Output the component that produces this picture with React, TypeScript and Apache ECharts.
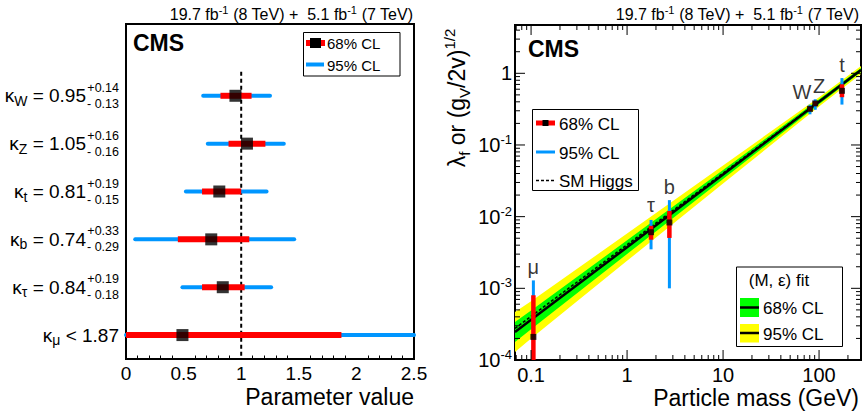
import React, { useEffect, useRef } from 'react';
import * as echarts from 'echarts';

// ---------- Left panel: coupling modifiers ----------
const kappaNames = ['W', 'Z', 't', 'b', 'τ', 'μ'];
const kappaCentral = [0.95, 1.05, 0.81, 0.74, 0.84, 0.49];
const kappa68Lo = [0.82, 0.89, 0.66, 0.45, 0.66, 0];
const kappa68Hi = [1.09, 1.21, 1.0, 1.07, 1.03, 1.87];
const kappa95Lo = [0.67, 0.71, 0.52, 0.08, 0.49, 0];
const kappa95Hi = [1.25, 1.37, 1.22, 1.46, 1.26, 2.5];
const kappaErrUp = ['+0.14', '+0.16', '+0.19', '+0.33', '+0.19', ''];
const kappaErrDown = ['- 0.13', '- 0.16', '- 0.15', '- 0.29', '- 0.18', ''];
const kappaMuLimit = '1.87';
const smKappa = 1;

// ---------- Right panel: reduced couplings vs mass ----------
const particleNames = ['μ', 'τ', 'b', 'W', 'Z', 't'];
const particleMass = [0.1057, 1.777, 2.76, 80.4, 91.19, 173.2];
const couplingCentral = [2.1e-4, 6.07e-3, 8.3e-3, 0.319, 0.38, 0.57];
const coupling68Lo = [5e-5, 4.77e-3, 5.05e-3, 0.296, 0.35, 0.464];
const coupling68Hi = [8.0e-4, 7.44e-3, 1.2e-2, 0.341, 0.408, 0.703];
const coupling95Lo = [5e-5, 3.5e-3, 1.0e-3, 0.268, 0.31, 0.366];
const coupling95Hi = [1.29e-3, 9.0e-3, 1.7e-2, 0.365, 0.434, 0.858];

const fitMass = [0.068, 0.1, 1, 10, 100, 273.5];
const fitCentral = [2.46e-4, 3.63e-4, 3.75e-3, 3.87e-2, 0.4, 1.11];
const fit68Lo = [1.78e-4, 2.69e-4, 3.01e-3, 3.36e-2, 0.369, 1.04];
const fit68Hi = [3.4e-4, 4.9e-4, 4.67e-3, 4.47e-2, 0.434, 1.19];
const fit95Lo = [1.29e-4, 2.0e-4, 2.42e-3, 2.9e-2, 0.344, 0.98];
const fit95Hi = [4.69e-4, 6.61e-4, 5.81e-3, 5.16e-2, 0.465, 1.26];
const smMass = [0.068, 273.5];
const smCoupling = [2.76e-4, 1.111];

const massTicks = [0.1, 1, 10, 100];
const couplingTicks = [1e-4, 1e-3, 1e-2, 1e-1, 1];

const FF = '"Liberation Sans", Arial, Helvetica, sans-serif';
const RED = '#ff0000';
const BLUE = '#0096ff';
const GREEN = '#00ff00';
const YELLOW = '#ffff00';

const X_MIN = 0.068;
const X_MAX = 273.5;
const Y_MIN = 1e-4;
const Y_MAX = 4.72;

const tok = (size: number, lh: number, va?: string) => {
  const o: any = { fontSize: size, lineHeight: lh, fontFamily: FF, color: '#000' };
  if (va) o.verticalAlign = va;
  return o;
};
const gtok = (size: number, lh: number, va?: string) => {
  const o: any = { fontSize: size, lineHeight: lh, fontFamily: FF, fill: '#000' };
  if (va) o.verticalAlign = va;
  return o;
};

function isPow10(v: number) {
  const l = Math.log10(v);
  return Math.abs(l - Math.round(l)) < 1e-6;
}

function buildOption() {
  const cats = ['', ...kappaNames];

  const hBar = (color: string, width: number, cap: string) => (params: any, api: any) => {
    const y = api.value(2);
    const a = api.coord([api.value(0), y]);
    const b = api.coord([api.value(1), y]);
    return {
      type: 'line',
      shape: { x1: a[0], y1: a[1], x2: b[0], y2: b[1] },
      style: { stroke: color, lineWidth: width, lineCap: cap },
    };
  };
  const vBar = (color: string, width: number) => (params: any, api: any) => {
    const x = api.value(0);
    const a = api.coord([x, api.value(1)]);
    const b = api.coord([x, api.value(2)]);
    return {
      type: 'line',
      shape: { x1: a[0], y1: a[1], x2: b[0], y2: b[1] },
      style: { stroke: color, lineWidth: width },
    };
  };
  const band = (lo: number[], hi: number[], color: string) => (params: any, api: any) => {
    if (params.dataIndex !== 0) return { type: 'group', children: [] };
    const pts: number[][] = [];
    for (let i = 0; i < fitMass.length; i++) pts.push(api.coord([fitMass[i], hi[i]]));
    for (let i = fitMass.length - 1; i >= 0; i--) pts.push(api.coord([fitMass[i], lo[i]]));
    return { type: 'polygon', shape: { points: pts }, style: { fill: color } };
  };

  // tick marks for the log frame (major + minor): [x, y, major]
  const xTickData: number[][] = [];
  massTicks.forEach((v) => xTickData.push([v, 0.01, 1]));
  [0.01, 0.1, 1, 10, 100].forEach((d) => {
    for (let k = 2; k <= 9; k++) {
      const v = k * d;
      if (v >= X_MIN && v <= X_MAX) xTickData.push([v, 0.01, 0]);
    }
  });
  const yTickData: number[][] = [];
  couplingTicks.forEach((v) => yTickData.push([1, v, 1]));
  [1e-4, 1e-3, 1e-2, 1e-1, 1].forEach((d) => {
    for (let k = 2; k <= 9; k++) {
      const v = k * d;
      if (v >= Y_MIN && v <= Y_MAX) yTickData.push([1, v, 0]);
    }
  });

  const labelNudge = [[0, 0], [0, -2], [0, 0], [-8, 0], [4, 0], [0, 0]];

  const header = {
    text: '{a|19.7 fb}{s|-1}{a| (8 TeV) +  5.1 fb}{s|-1}{a| (7 TeV)}',
    rich: { a: gtok(16, 20), s: gtok(11, 10, 'top') },
    align: 'right', verticalAlign: 'middle', fill: '#000', fontFamily: FF, fontSize: 16,
  };

  const graphic: any[] = [
    { type: 'text', x: 413, y: 14, z: 100, style: { ...header } },
    { type: 'text', x: 859, y: 14, z: 100, style: { ...header } },
    // CMS labels
    { type: 'text', x: 133, y: 43, z: 100, style: { text: 'CMS', fontSize: 23, fontWeight: 'bold', fontFamily: FF, fill: '#000', verticalAlign: 'middle' } },
    { type: 'text', x: 528, y: 49, z: 100, style: { text: 'CMS', fontSize: 23, fontWeight: 'bold', fontFamily: FF, fill: '#000', verticalAlign: 'middle' } },
    // left legend
    { type: 'rect', z: 100, shape: { x: 303.5, y: 32.5, width: 96.5, height: 43.5 }, style: { fill: '#fff', stroke: '#000', lineWidth: 1 } },
    { type: 'line', z: 101, shape: { x1: 306, y1: 43, x2: 325, y2: 43 }, style: { stroke: RED, lineWidth: 6 } },
    { type: 'rect', z: 102, shape: { x: 310, y: 38, width: 11, height: 10 }, style: { fill: '#000' } },
    { type: 'text', z: 101, x: 327, y: 43.5, style: { text: '68% CL', fontSize: 15, fontFamily: FF, fill: '#000', verticalAlign: 'middle' } },
    { type: 'line', z: 101, shape: { x1: 306, y1: 64.5, x2: 324, y2: 64.5 }, style: { stroke: BLUE, lineWidth: 4 } },
    { type: 'text', z: 101, x: 327, y: 65.5, style: { text: '95% CL', fontSize: 15, fontFamily: FF, fill: '#000', verticalAlign: 'middle' } },
    // right top legend
    { type: 'rect', z: 100, shape: { x: 532.5, y: 109.5, width: 106, height: 81 }, style: { fill: '#fff', stroke: '#000', lineWidth: 1 } },
    { type: 'line', z: 101, shape: { x1: 536, y1: 123, x2: 555, y2: 123 }, style: { stroke: RED, lineWidth: 5 } },
    { type: 'rect', z: 102, shape: { x: 542.5, y: 120, width: 6, height: 6 }, style: { fill: '#000' } },
    { type: 'text', z: 101, x: 559, y: 124, style: { text: '68% CL', fontSize: 17, fontFamily: FF, fill: '#000', verticalAlign: 'middle' } },
    { type: 'line', z: 101, shape: { x1: 536, y1: 152, x2: 555, y2: 152 }, style: { stroke: BLUE, lineWidth: 3 } },
    { type: 'text', z: 101, x: 559, y: 153, style: { text: '95% CL', fontSize: 17, fontFamily: FF, fill: '#000', verticalAlign: 'middle' } },
    { type: 'line', z: 101, shape: { x1: 536, y1: 180.5, x2: 555, y2: 180.5 }, style: { stroke: '#000', lineWidth: 1.5, lineDash: [3, 2] } },
    { type: 'text', z: 101, x: 559, y: 181, style: { text: 'SM Higgs', fontSize: 17, fontFamily: FF, fill: '#000', verticalAlign: 'middle' } },
    // right bottom legend
    { type: 'rect', z: 100, shape: { x: 736.5, y: 267, width: 106, height: 79.5 }, style: { fill: '#fff', stroke: '#000', lineWidth: 1 } },
    { type: 'text', z: 101, x: 779, y: 280.5, style: { text: '(M, ε) fit', fontSize: 17, fontFamily: FF, fill: '#000', align: 'center', verticalAlign: 'middle' } },
    { type: 'rect', z: 101, shape: { x: 740, y: 298, width: 19, height: 19 }, style: { fill: GREEN } },
    { type: 'line', z: 102, shape: { x1: 740, y1: 307.5, x2: 759, y2: 307.5 }, style: { stroke: '#000', lineWidth: 2.5 } },
    { type: 'text', z: 101, x: 763, y: 308.5, style: { text: '68% CL', fontSize: 17, fontFamily: FF, fill: '#000', verticalAlign: 'middle' } },
    { type: 'rect', z: 101, shape: { x: 740, y: 324, width: 19, height: 18.5 }, style: { fill: YELLOW } },
    { type: 'line', z: 102, shape: { x1: 740, y1: 333, x2: 759, y2: 333 }, style: { stroke: '#000', lineWidth: 2.5 } },
    { type: 'text', z: 101, x: 763, y: 334.5, style: { text: '95% CL', fontSize: 17, fontFamily: FF, fill: '#000', verticalAlign: 'middle' } },
    // right y title
    {
      type: 'text', x: 457, y: 98, rotation: Math.PI / 2, z: 100,
      style: {
        text: '{t|λ}{s|f}{t| or (g}{s|V}{t|/2v)}{u|1/2}',
        rich: { t: gtok(23, 30), s: gtok(15, 15, 'bottom'), u: gtok(15, 15, 'top') },
        align: 'center', verticalAlign: 'middle', fill: '#000', fontFamily: FF, fontSize: 23,
      },
    },
  ];

  return {
    animation: false,
    backgroundColor: '#fff',
    textStyle: { fontFamily: FF, color: '#000' },
    grid: [
      { left: 126, top: 24, width: 288, height: 335, show: true, borderColor: '#000', borderWidth: 2, backgroundColor: 'transparent', containLabel: false, outerBoundsMode: 'none' },
      { left: 515, top: 25, width: 346, height: 335, show: true, borderColor: '#000', borderWidth: 2, backgroundColor: 'transparent', containLabel: false, outerBoundsMode: 'none' },
    ],
    xAxis: [
      {
        type: 'value', gridIndex: 0, min: 0, max: 2.5, interval: 0.5,
        axisLine: { onZero: false, lineStyle: { color: '#000', width: 2 } },
        axisTick: { inside: true, length: 7, lineStyle: { color: '#000', width: 1 } },
        minorTick: { show: true, splitNumber: 5, length: 3.5, lineStyle: { color: '#000', width: 1 } },
        axisLabel: { margin: 5, fontSize: 19, color: '#000', fontFamily: FF },
        splitLine: { show: false },
        name: 'Parameter value', nameLocation: 'end', nameGap: 0,
        nameTextStyle: { fontSize: 23, color: '#000', fontFamily: FF, align: 'right', verticalAlign: 'top', padding: [26, 0, 0, 0] },
      },
      {
        type: 'log', logBase: 10, gridIndex: 1, min: X_MIN, max: X_MAX,
        axisLine: { onZero: false, lineStyle: { color: '#000', width: 2 } },
        axisTick: { show: false },
        axisLabel: {
          margin: 5, fontSize: 20, color: '#000', fontFamily: FF,
          formatter: (v: number) => {
            if (!isPow10(v)) return '';
            const e = Math.round(Math.log10(v));
            return e < 0 ? Math.pow(10, e).toFixed(-e) : String(Math.pow(10, e));
          },
        },
        splitLine: { show: false },
        name: 'Particle mass (GeV)', nameLocation: 'end', nameGap: -2,
        nameTextStyle: { fontSize: 23, color: '#000', fontFamily: FF, align: 'right', verticalAlign: 'top', padding: [26, 0, 0, 0] },
      },
    ],
    yAxis: [
      {
        type: 'category', gridIndex: 0, data: cats, inverse: true,
        axisLine: { onZero: false, lineStyle: { color: '#000', width: 2 } },
        axisTick: { inside: true, length: 5, lineStyle: { color: '#000', width: 1 } },
        axisLabel: {
          interval: 0, margin: 40,
          formatter: (value: string, index: number) => {
            if (index === 0 || value === 'μ') return '';
            const i = index - 1;
            return `{k|κ}{s|${value}}{m| = ${kappaCentral[i].toFixed(2)}}`;
          },
          rich: { k: tok(19, 24), s: tok(14, 14, 'bottom'), m: tok(19, 24) },
        },
        splitLine: { show: false },
      },
      {
        type: 'category', gridIndex: 0, data: cats, inverse: true, position: 'left',
        axisLine: { show: false }, axisTick: { show: false },
        axisLabel: {
          interval: 0, margin: 7,
          formatter: (value: string, index: number) => {
            if (index === 0) return '';
            const i = index - 1;
            if (value === 'μ') return `{k|κ}{s|μ}{m| < ${kappaMuLimit}}`;
            return `{p|${kappaErrUp[i]}}\n{p|${kappaErrDown[i]}}`;
          },
          rich: { k: tok(19, 24), s: tok(14, 14, 'bottom'), m: tok(19, 24), p: tok(12.5, 16) },
        },
        splitLine: { show: false },
      },
      {
        type: 'log', logBase: 10, gridIndex: 1, min: Y_MIN, max: Y_MAX,
        axisLine: { onZero: false, lineStyle: { color: '#000', width: 2 } },
        axisTick: { show: false },
        axisLabel: {
          margin: 3,
          formatter: (v: number) => {
            if (!isPow10(v)) return '';
            const e = Math.round(Math.log10(v));
            if (e === 0) return '{b|1}';
            return `{b|10}{e|${e}}`;
          },
          rich: { b: tok(20, 24), e: tok(13, 13, 'top') },
        },
        splitLine: { show: false },
      },
    ],
    series: [
      // ----- left panel -----
      {
        type: 'custom', name: '95% CL', xAxisIndex: 0, yAxisIndex: 0, z: 3,
        renderItem: hBar(BLUE, 4, 'round'),
        encode: { x: [0, 1], y: 2 },
        data: kappaNames.map((_, i) => [kappa95Lo[i], kappa95Hi[i], i + 1]),
      },
      {
        type: 'custom', name: '68% CL', xAxisIndex: 0, yAxisIndex: 0, z: 4,
        renderItem: hBar(RED, 6, 'butt'),
        encode: { x: [0, 1], y: 2 },
        data: kappaNames.map((_, i) => [kappa68Lo[i], kappa68Hi[i], i + 1]),
      },
      {
        type: 'custom', name: 'SM', xAxisIndex: 0, yAxisIndex: 0, z: 2,
        renderItem: (params: any, api: any) => {
          const p = api.coord([api.value(0), api.value(1)]);
          const bw = api.size([0, 1])[1];
          const cs = params.coordSys;
          return {
            type: 'line',
            shape: { x1: p[0], y1: p[1] - bw / 2, x2: p[0], y2: cs.y + cs.height },
            style: { stroke: '#000', lineWidth: 2, lineDash: [4, 3] },
          };
        },
        encode: { x: 0, y: 1 },
        data: [[smKappa, 1]],
      },
      {
        type: 'scatter', name: 'best fit', xAxisIndex: 0, yAxisIndex: 0, z: 5,
        symbol: 'rect', symbolSize: 12, itemStyle: { color: '#000' },
        data: kappaCentral.map((v, i) => [v, i + 1]),
      },
      // ----- right panel -----
      {
        type: 'custom', name: 'fit95', xAxisIndex: 1, yAxisIndex: 2, z: 1, clip: true,
        renderItem: band(fit95Lo, fit95Hi, YELLOW),
        encode: { x: 0, y: [1, 2] },
        data: fitMass.map((m, i) => [m, fit95Lo[i], fit95Hi[i]]),
      },
      {
        type: 'custom', name: 'fit68', xAxisIndex: 1, yAxisIndex: 2, z: 1.5, clip: true,
        renderItem: band(fit68Lo, fit68Hi, GREEN),
        encode: { x: 0, y: [1, 2] },
        data: fitMass.map((m, i) => [m, fit68Lo[i], fit68Hi[i]]),
      },
      {
        type: 'line', name: 'fit', xAxisIndex: 1, yAxisIndex: 2, z: 3,
        symbol: 'none', lineStyle: { color: '#000', width: 2.5 },
        data: fitMass.map((m, i) => [m, fitCentral[i]]),
      },
      {
        type: 'line', name: 'SM Higgs', xAxisIndex: 1, yAxisIndex: 2, z: 3.5,
        symbol: 'none', lineStyle: { color: '#000', width: 1.5, type: [3, 2] },
        data: smMass.map((m, i) => [m, smCoupling[i]]),
      },
      {
        type: 'custom', name: '95% CL r', xAxisIndex: 1, yAxisIndex: 2, z: 4, clip: true,
        renderItem: vBar(BLUE, 3),
        encode: { x: 0, y: [1, 2] },
        data: particleMass.map((m, i) => [m, coupling95Lo[i], coupling95Hi[i]]),
      },
      {
        type: 'custom', name: '68% CL r', xAxisIndex: 1, yAxisIndex: 2, z: 4.5, clip: true,
        renderItem: vBar(RED, 4.5),
        encode: { x: 0, y: [1, 2] },
        data: particleMass.map((m, i) => [m, coupling68Lo[i], coupling68Hi[i]]),
      },
      {
        type: 'scatter', name: 'coupling', xAxisIndex: 1, yAxisIndex: 2, z: 5,
        symbol: 'rect', symbolSize: 6, itemStyle: { color: '#000' },
        data: particleMass.map((m, i) => [m, couplingCentral[i]]),
      },
      {
        type: 'scatter', name: 'labels', xAxisIndex: 1, yAxisIndex: 2, z: 6,
        symbolSize: 2, itemStyle: { color: 'rgba(0,0,0,0)' },
        label: {
          show: true, position: 'top', distance: 2, fontSize: 20, color: '#000', fontFamily: FF,
          formatter: (p: any) => particleNames[p.dataIndex],
        },
        data: particleMass.map((m, i) => ({ value: [m, coupling95Hi[i]], label: { offset: labelNudge[i] } })),
      },
      {
        type: 'custom', name: 'xticks', xAxisIndex: 1, yAxisIndex: 2, z: 7,
        encode: { x: 0, y: 1 },
        renderItem: (params: any, api: any) => {
          const cs = params.coordSys;
          const len = api.value(2) > 0.5 ? 10 : 5;
          const px = api.coord([api.value(0), api.value(1)])[0];
          const b = cs.y + cs.height;
          return {
            type: 'group',
            children: [
              { type: 'line', shape: { x1: px, y1: b, x2: px, y2: b - len }, style: { stroke: '#000', lineWidth: 1 } },
              { type: 'line', shape: { x1: px, y1: cs.y, x2: px, y2: cs.y + len }, style: { stroke: '#000', lineWidth: 1 } },
            ],
          };
        },
        data: xTickData,
      },
      {
        type: 'custom', name: 'yticks', xAxisIndex: 1, yAxisIndex: 2, z: 7,
        encode: { x: 0, y: 1 },
        renderItem: (params: any, api: any) => {
          const cs = params.coordSys;
          const len = api.value(2) > 0.5 ? 10 : 5;
          const py = api.coord([api.value(0), api.value(1)])[1];
          const r = cs.x + cs.width;
          return {
            type: 'group',
            children: [
              { type: 'line', shape: { x1: cs.x, y1: py, x2: cs.x + len, y2: py }, style: { stroke: '#000', lineWidth: 1 } },
              { type: 'line', shape: { x1: r, y1: py, x2: r - len, y2: py }, style: { stroke: '#000', lineWidth: 1 } },
            ],
          };
        },
        data: yTickData,
      },
    ],
    graphic,
  };
}

export default function App() {
  const ref = useRef<HTMLDivElement>(null);
  useEffect(() => {
    if (!ref.current) return;
    const chart = echarts.init(ref.current, undefined, { renderer: 'svg' });
    chart.setOption(buildOption() as any);
    return () => chart.dispose();
  }, []);
  return (
    <div
      ref={ref}
      style={{ position: 'fixed', left: 0, top: 0, width: 864, height: 414, background: '#fff' }}
    />
  );
}
